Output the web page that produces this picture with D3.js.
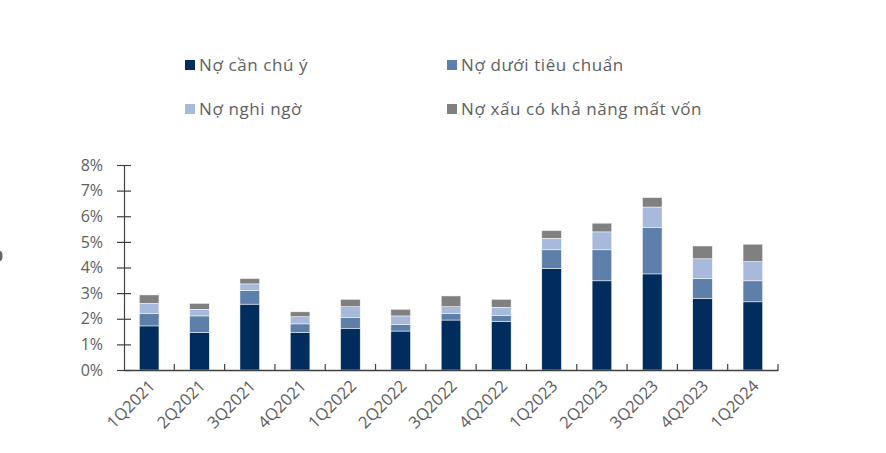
<!DOCTYPE html>
<html>
<head>
<meta charset="utf-8">
<script src="https://cdn.jsdelivr.net/npm/d3@7"></script>
<style>
  html, body { margin: 0; padding: 0; background: #fff; }
  svg { display: block; }
</style>
</head>
<body>
<svg id="chart" width="886" height="453"></svg>
<script>
const categories = ["1Q2021","2Q2021","3Q2021","4Q2021","1Q2022","2Q2022","3Q2022","4Q2022","1Q2023","2Q2023","3Q2023","4Q2023","1Q2024"];
const seriesNames = ["Nợ cần chú ý","Nợ dưới tiêu chuẩn","Nợ nghi ngờ","Nợ xấu có khả năng mất vốn"];
const canChuY     = [1.72,1.46,2.57,1.46,1.63,1.52,1.95,1.89,3.97,3.48,3.75,2.80,2.66];
const duoiTieuChuan = [0.49,0.65,0.53,0.34,0.41,0.26,0.26,0.23,0.72,1.21,1.81,0.78,0.82];
const nghiNgo     = [0.39,0.26,0.26,0.28,0.43,0.33,0.26,0.33,0.45,0.70,0.80,0.76,0.75];
const matVon      = [0.33,0.23,0.21,0.19,0.29,0.26,0.42,0.31,0.30,0.34,0.37,0.50,0.68];
const yTicks = [0,1,2,3,4,5,6,7,8];
const colors = ["#002d5e","#5d7fa9","#a8badb","#808080"];

const svg = d3.select("#chart");
const font = "'Open Sans', 'Noto Sans', sans-serif";
const textColor = "#606060";

const rows = categories.map((c, i) => ({
  cat: c,
  s0: canChuY[i], s1: duoiTieuChuan[i], s2: nghiNgo[i], s3: matVon[i]
}));
const stack = d3.stack().keys(["s0","s1","s2","s3"])(rows);

const x = d3.scaleBand().domain(categories).range([124, 778]).paddingInner(0.61).paddingOuter(0.305);
const y = d3.scaleLinear().domain([0, 8]).range([370, 165]);

// bars
svg.append("g").selectAll("g").data(stack).join("g")
  .attr("fill", (d, i) => colors[i])
  .selectAll("rect").data(d => d).join("rect")
  .attr("x", d => x(d.data.cat))
  .attr("width", x.bandwidth())
  .attr("y", d => y(d[1]))
  .attr("height", d => y(d[0]) - y(d[1]))
  .attr("stroke", "#ffffff")
  .attr("stroke-width", 0.5);

// y axis
const yAxis = svg.append("g").attr("transform", "translate(124,0)")
  .call(d3.axisLeft(y).tickValues(yTicks).tickFormat(d => d + "%").tickSizeInner(7).tickSizeOuter(0));
yAxis.select(".domain").attr("stroke", "#404040").attr("stroke-width", 1.2);
yAxis.selectAll(".tick line").attr("stroke", "#404040").attr("x1", -7).attr("x2", 7).attr("stroke-width", 1.2);
yAxis.selectAll(".tick text").attr("x", -21).attr("fill", textColor)
  .style("font-family", font).style("font-size", "16px");

// x axis
const xAxis = svg.append("g").attr("transform", "translate(0,370)")
  .call(d3.axisBottom(x).tickSize(0).tickSizeOuter(0));
xAxis.select(".domain").attr("stroke", "#404040").attr("stroke-width", 1.5);
xAxis.selectAll(".tick text")
  .attr("fill", textColor)
  .style("font-family", font).style("font-size", "16.5px")
  .attr("text-anchor", "end")
  .attr("dy", null)
  .attr("transform", "translate(7,17) rotate(-45)")
  .attr("x", 0).attr("y", 0);
// category boundary ticks (pointing up)
const step = x.step();
xAxis.append("g").selectAll("line").data(categories).join("line")
  .attr("x1", d => x(d) - x.paddingOuter() * step + step)
  .attr("x2", d => x(d) - x.paddingOuter() * step + step)
  .attr("y1", 0).attr("y2", -6)
  .attr("stroke", "#404040").attr("stroke-width", 1.2);

// legend
const legendPos = [[185, 65], [447, 65], [185, 109], [447, 109]];
const lg = svg.append("g");
seriesNames.forEach((name, i) => {
  const [lx, ly] = legendPos[i];
  lg.append("rect").attr("x", lx).attr("y", ly - 5).attr("width", 10).attr("height", 10).attr("fill", colors[i]);
  lg.append("text").attr("x", lx + 14).attr("y", ly).attr("dy", "0.35em")
    .attr("fill", textColor).style("font-family", font).style("font-size", "17px")
    .style("letter-spacing", "0.6px")
    .text(name);
});

// small edge artifact
svg.append("ellipse").attr("cx", 0).attr("cy", 256).attr("rx", 2.5).attr("ry", 5).attr("fill", "#666");
</script>
</body>
</html>
